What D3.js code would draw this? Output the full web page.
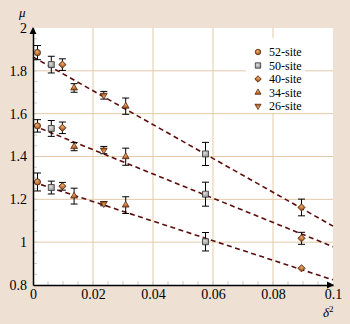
<!DOCTYPE html>
<html lang="en">
<head>
  <meta charset="UTF-8" />
  <script src="https://d3js.org/d3.v7.min.js"></script>
  <title>mu vs delta^2</title>
  <style>
    body { margin: 0; background: #eee0d3; }
    text { font-family: "Liberation Serif", "DejaVu Serif", serif; }
  </style>
</head>
<body>
  <svg width="350" height="324"></svg>

  <script>
    // data
    const seriesNames = ["52-site", "50-site", "40-site", "34-site", "26-site"];
    const s52x = [0.0015, 0.0015, 0.0015];
    const s52y = [1.885, 1.543, 1.281];
    const s52e = [0.033, 0.029, 0.042];
    const s50x = [0.0061, 0.0061, 0.0061, 0.0575, 0.0575, 0.0575];
    const s50y = [1.829, 1.531, 1.255, 1.412, 1.224, 1.002];
    const s50e = [0.039, 0.037, 0.030, 0.054, 0.056, 0.043];
    const s40x = [0.0098, 0.0098, 0.0098, 0.0895, 0.0895, 0.0895];
    const s40y = [1.829, 1.534, 1.261, 1.162, 1.018, 0.878];
    const s40e = [0.027, 0.027, 0.018, 0.039, 0.028, 0.004];
    const s34x = [0.0137, 0.0137, 0.0137, 0.0309, 0.0309, 0.0309];
    const s34y = [1.720, 1.446, 1.215, 1.635, 1.399, 1.173];
    const s34e = [0.020, 0.019, 0.037, 0.038, 0.040, 0.039];
    const s26x = [0.0236, 0.0236, 0.0236];
    const s26y = [1.686, 1.430, 1.180];
    const s26e = [0.018, 0.017, 0.010];
    // linear fits: value at delta^2 = 0 and at 0.1
    const fitStart = [1.865, 1.545, 1.281];
    const fitEnd = [1.075, 0.979, 0.824];
    const xTicks = [0, 0.02, 0.04, 0.06, 0.08, 0.1];
    const yTicks = [0.8, 1, 1.2, 1.4, 1.6, 1.8, 2];

    const svg = d3.select("svg");
    const margin = { top: 28, right: 17, bottom: 39, left: 33 };
    const width = 350 - margin.left - margin.right;
    const height = 324 - margin.top - margin.bottom;

    const x = d3.scaleLinear().domain([0, 0.1]).range([0, width]);
    const y = d3.scaleLinear().domain([0.8, 2]).range([height, 0]);

    const chart = svg.append("g")
      .attr("transform", `translate(${margin.left},${margin.top})`);

    // plot background
    chart.append("rect")
      .attr("width", width).attr("height", height)
      .attr("fill", "#fff");

    // grid
    const gridColor = "#e2caa9";
    chart.append("g").selectAll("line")
      .data(xTicks.slice(1, -1))
      .join("line")
      .attr("x1", d => x(d)).attr("x2", d => x(d))
      .attr("y1", 0).attr("y2", height)
      .attr("stroke", gridColor);
    chart.append("g").selectAll("line")
      .data(yTicks.slice(1, -1))
      .join("line")
      .attr("x1", 0).attr("x2", width)
      .attr("y1", d => y(d)).attr("y2", d => y(d))
      .attr("stroke", gridColor);

    // minor ticks
    chart.append("g").selectAll("line")
      .data(d3.range(0.005, 0.1, 0.005))
      .join("line")
      .attr("x1", d => x(d)).attr("x2", d => x(d))
      .attr("y1", height).attr("y2", height - 4)
      .attr("stroke", "#ccc");
    chart.append("g").selectAll("line")
      .data(d3.range(0.85, 2, 0.05))
      .join("line")
      .attr("x1", 0).attr("x2", 4)
      .attr("y1", d => y(d)).attr("y2", d => y(d))
      .attr("stroke", "#ccc");

    // legend box (white, hides grid)
    const legend = chart.append("g").attr("transform", "translate(213,10)");
    legend.append("rect")
      .attr("width", 59).attr("height", 75)
      .attr("fill", "#fff");

    // fit lines
    chart.append("g").selectAll("line")
      .data(fitStart)
      .join("line")
      .attr("x1", x(0)).attr("y1", d => y(d))
      .attr("x2", x(0.1)).attr("y2", (d, i) => y(fitEnd[i]))
      .attr("stroke", "#5e0d0d")
      .attr("stroke-width", 1.6)
      .attr("stroke-dasharray", "5,3.5");

    // marker shapes
    const defs = svg.append("defs");
    const grad = defs.append("radialGradient").attr("id", "orange")
      .attr("cx", "40%").attr("cy", "35%").attr("r", "70%");
    grad.append("stop").attr("offset", "0%").attr("stop-color", "#f0b070");
    grad.append("stop").attr("offset", "100%").attr("stop-color", "#9a4a14");
    const gradG = defs.append("radialGradient").attr("id", "grey")
      .attr("cx", "40%").attr("cy", "35%").attr("r", "70%");
    gradG.append("stop").attr("offset", "0%").attr("stop-color", "#e0e0e0");
    gradG.append("stop").attr("offset", "100%").attr("stop-color", "#909090");

    const shapes = [
      { sym: d3.symbolCircle, size: 30, fill: "url(#orange)", rot: 0 },
      { sym: d3.symbolSquare, size: 36, fill: "url(#grey)", rot: 0 },
      { sym: d3.symbolSquare, size: 26, fill: "url(#orange)", rot: 45 },
      { sym: d3.symbolTriangle, size: 20, fill: "url(#orange)", rot: 0 },
      { sym: d3.symbolTriangle, size: 20, fill: "url(#orange)", rot: 180 }
    ];
    const allX = [s52x, s50x, s40x, s34x, s26x];
    const allY = [s52y, s50y, s40y, s34y, s26y];
    const allE = [s52e, s50e, s40e, s34e, s26e];

    allX.forEach((xs, k) => {
      const pts = xs.map((d, i) => ({ x: d, y: allY[k][i], e: allE[k][i] }));
      const g = chart.append("g");
      // error bars
      const eb = g.selectAll(".eb").data(pts.filter(p => p.e > 0.008)).join("g")
        .attr("stroke", "#000").attr("stroke-width", 1);
      eb.append("line")
        .attr("x1", p => x(p.x)).attr("x2", p => x(p.x))
        .attr("y1", p => y(p.y + p.e)).attr("y2", p => y(p.y - p.e));
      eb.append("line")
        .attr("x1", p => x(p.x) - 3.5).attr("x2", p => x(p.x) + 3.5)
        .attr("y1", p => y(p.y + p.e)).attr("y2", p => y(p.y + p.e));
      eb.append("line")
        .attr("x1", p => x(p.x) - 3.5).attr("x2", p => x(p.x) + 3.5)
        .attr("y1", p => y(p.y - p.e)).attr("y2", p => y(p.y - p.e));
      // markers
      g.selectAll("path").data(pts).join("path")
        .attr("d", d3.symbol(shapes[k].sym, shapes[k].size))
        .attr("transform", p => `translate(${x(p.x)},${y(p.y)}) rotate(${shapes[k].rot})`)
        .attr("fill", shapes[k].fill)
        .attr("stroke", k === 1 ? "#333" : "#5a2a0c")
        .attr("stroke-width", 0.8);
    });

    // legend entries
    seriesNames.forEach((name, k) => {
      const row = legend.append("g").attr("transform", `translate(12,${14 + k * 13.5})`);
      row.append("path")
        .attr("d", d3.symbol(shapes[k].sym, shapes[k].size * 0.8))
        .attr("transform", `rotate(${shapes[k].rot})`)
        .attr("fill", shapes[k].fill)
        .attr("stroke", k === 1 ? "#333" : "#5a2a0c")
        .attr("stroke-width", 0.8);
      row.append("text")
        .attr("x", 11).attr("y", 4)
        .attr("font-size", 12)
        .text(name);
    });

    // axes
    const fmt = d => String(+d.toFixed(3));
    const xAxis = chart.append("g")
      .attr("transform", `translate(0,${height})`)
      .call(d3.axisBottom(x).tickValues(xTicks).tickSize(0).tickPadding(4).tickFormat(fmt));
    const yAxis = chart.append("g")
      .call(d3.axisLeft(y).tickValues(yTicks).tickSize(0).tickPadding(6).tickFormat(fmt));
    [xAxis, yAxis].forEach(a => {
      a.select(".domain").attr("stroke", "#000").attr("stroke-width", 1.5);
      a.selectAll("text").attr("font-size", 14)
        .attr("font-family", "Liberation Serif, serif").attr("fill", "#000");
    });

    // arrow heads
    chart.append("path")
      .attr("d", `M${width - 6},${height - 3.5}L${width + 1},${height}L${width - 6},${height + 3.5}Z`)
      .attr("fill", "#000");
    chart.append("path")
      .attr("d", `M-3.5,6L0,-1L3.5,6Z`)
      .attr("fill", "#000");

    // axis titles
    svg.append("text")
      .attr("x", 19).attr("y", 17)
      .attr("font-size", 13).attr("font-style", "italic")
      .text("\u03bc");
    svg.append("text")
      .attr("x", 323).attr("y", 317)
      .attr("font-size", 13).attr("font-style", "italic")
      .text("\u03b4")
      .append("tspan").attr("font-size", 9).attr("dy", -5).attr("font-style", "normal").text("2");
  </script>
</body>
</html>
